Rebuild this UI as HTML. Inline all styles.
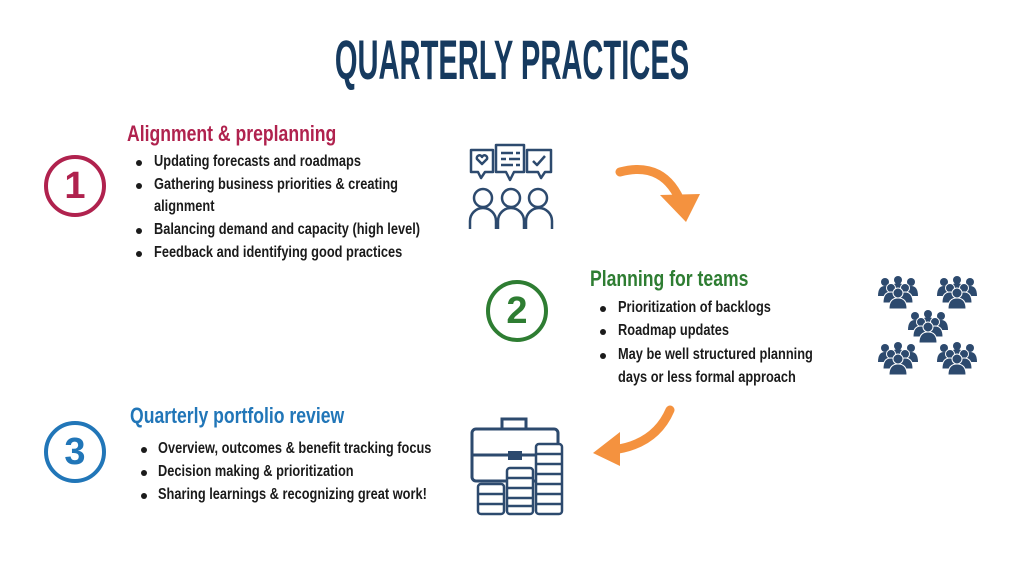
<!DOCTYPE html>
<html><head><meta charset="utf-8"><style>
body{margin:0;width:1024px;height:576px;background:#fff;position:relative;overflow:hidden;font-family:"Liberation Sans",sans-serif;}
.t{position:absolute;white-space:nowrap;transform-origin:0 0;transform:scaleX(0.8);font-weight:bold;}
.b{font-size:16px;color:#1b1b1b;}
.h{font-size:22px;}
.d{position:absolute;width:6px;height:6px;border-radius:50%;background:#1b1b1b;}
.title{position:absolute;left:512px;top:27px;white-space:nowrap;font-size:56px;font-weight:bold;color:#163a5f;transform:translateX(-50%) scaleX(0.52);}
.c{position:absolute;width:54px;height:54px;border-radius:50%;border:4px solid;text-align:center;line-height:54px;font-size:38px;font-weight:bold;}
</style></head><body>
<div class="title">QUARTERLY PRACTICES</div>

<div class="c" style="left:44px;top:155px;border-color:#b0224e;color:#b0224e">1</div>
<div class="t h" style="left:127px;top:121px;color:#b0224e">Alignment &amp; preplanning</div>
<div class="d" style="left:136px;top:160px"></div><div class="t b" style="left:154px;top:153px">Updating forecasts and roadmaps</div>
<div class="d" style="left:136px;top:183px"></div><div class="t b" style="left:154px;top:176px">Gathering business priorities &amp; creating</div>
<div class="t b" style="left:154px;top:198px">alignment</div>
<div class="d" style="left:136px;top:228px"></div><div class="t b" style="left:154px;top:221px">Balancing demand and capacity (high level)</div>
<div class="d" style="left:136px;top:251px"></div><div class="t b" style="left:154px;top:244px">Feedback and identifying good practices</div>

<div class="c" style="left:486px;top:280px;border-color:#2e7d32;color:#2e7d32">2</div>
<div class="t h" style="left:590px;top:266px;color:#2e7d32">Planning for teams</div>
<div class="d" style="left:600px;top:306px"></div><div class="t b" style="left:618px;top:299px">Prioritization of backlogs</div>
<div class="d" style="left:600px;top:329px"></div><div class="t b" style="left:618px;top:322px">Roadmap updates</div>
<div class="d" style="left:600px;top:353px"></div><div class="t b" style="left:618px;top:346px">May be well structured planning</div>
<div class="t b" style="left:618px;top:369px">days or less formal approach</div>

<div class="c" style="left:44px;top:421px;border-color:#2176b8;color:#2176b8">3</div>
<div class="t h" style="left:130px;top:403px;color:#2176b8">Quarterly portfolio review</div>
<div class="d" style="left:141px;top:447px"></div><div class="t b" style="left:158px;top:440px">Overview, outcomes &amp; benefit tracking focus</div>
<div class="d" style="left:141px;top:470px"></div><div class="t b" style="left:158px;top:463px">Decision making &amp; prioritization</div>
<div class="d" style="left:141px;top:493px"></div><div class="t b" style="left:158px;top:486px">Sharing learnings &amp; recognizing great work!</div>

<svg width="1024" height="576" style="position:absolute;left:0;top:0">
<path d="M620 172 Q665 160 682 205" stroke="#f4923f" stroke-width="9" fill="none" stroke-linecap="round"/>
<polygon points="660,195 700,194 686,222" fill="#f4923f"/>
<path d="M670 410 Q655 445 612 450" stroke="#f4923f" stroke-width="9" fill="none" stroke-linecap="round"/>
<polygon points="620,432 593,453 620,466" fill="#f4923f"/>
<g stroke="#2d4a6e" stroke-width="2.5" fill="none" stroke-linejoin="round">
<path d="M471 150 h22 v22 h-8 l-4 6 l-3 -6 h-7 z"/>
<path d="M496 145 h28 v27 h-10 l-4 8 l-4 -8 h-10 z"/>
<path d="M527 150 h24 v22 h-6 l-4 6 l-3 -6 h-11 z"/>
<path d="M477 159 l5 5 l5 -5 a2.5 2.5 0 0 0 -5 -2 a2.5 2.5 0 0 0 -5 2z"/>
<path d="M501 153 h12 M516 153 h4 M501 159 h5 M509 159 h11 M501 165 h12 M516 165 h4"/>
<path d="M533 161 l4 4 l8 -9"/>
<circle cx="483" cy="198" r="9"/><circle cx="511" cy="198" r="9"/><circle cx="538" cy="198" r="9"/>
<path d="M470 229 v-8 a13 13 0 0 1 26 0 v8 M498 229 v-8 a13 13 0 0 1 26 0 v8 M526 229 v-8 a13 13 0 0 1 26 0 v8"/>
</g>
<defs><g id="grp" fill="#2d4a6e">
<circle cx="8" cy="5" r="4"/><path d="M1 19 q0 -10 7 -10 q7 0 7 10z"/>
<circle cx="34" cy="5" r="4"/><path d="M27 19 q0 -10 7 -10 q7 0 7 10z"/>
<circle cx="21" cy="3" r="4"/><path d="M14 15 q0 -9 7 -9 q7 0 7 9z"/>
<circle cx="14" cy="11" r="4.5" stroke="#fff" stroke-width="1"/><path d="M6 26 q0 -11 8 -11 q8 0 8 11z" stroke="#fff" stroke-width="1"/>
<circle cx="28" cy="11" r="4.5" stroke="#fff" stroke-width="1"/><path d="M20 26 q0 -11 8 -11 q8 0 8 11z" stroke="#fff" stroke-width="1"/>
<circle cx="21" cy="16" r="5" stroke="#fff" stroke-width="1"/><path d="M12 32 q0 -11 9 -11 q9 0 9 11z" stroke="#fff" stroke-width="1"/>
</g></defs>
<use href="#grp" x="877" y="277"/><use href="#grp" x="936" y="277"/>
<use href="#grp" x="907" y="311"/>
<use href="#grp" x="877" y="343"/><use href="#grp" x="936" y="343"/>
<g stroke="#2d4a6e" stroke-width="3" fill="none">
<path d="M502 429 v-10 h24 v10"/>
<rect x="472" y="429" width="86" height="52" rx="4"/>
<path d="M472 455 h86"/>
</g>
<rect x="508" y="451" width="14" height="9" fill="#2d4a6e"/>
<g fill="#fff" stroke="#2d4a6e" stroke-width="2.5">
<rect x="536" y="444" width="26" height="70" rx="3"/>
<rect x="507" y="468" width="26" height="46" rx="3"/>
<rect x="478" y="484" width="26" height="30" rx="3"/>
</g>
<g stroke="#2d4a6e" stroke-width="2.5">
<path d="M536 454 h26 M536 464 h26 M536 474 h26 M536 484 h26 M536 494 h26 M536 504 h26"/>
<path d="M507 478 h26 M507 488 h26 M507 498 h26 M507 506 h26"/>
<path d="M478 494 h26 M478 504 h26"/>
</g>
</svg>
</body></html>
